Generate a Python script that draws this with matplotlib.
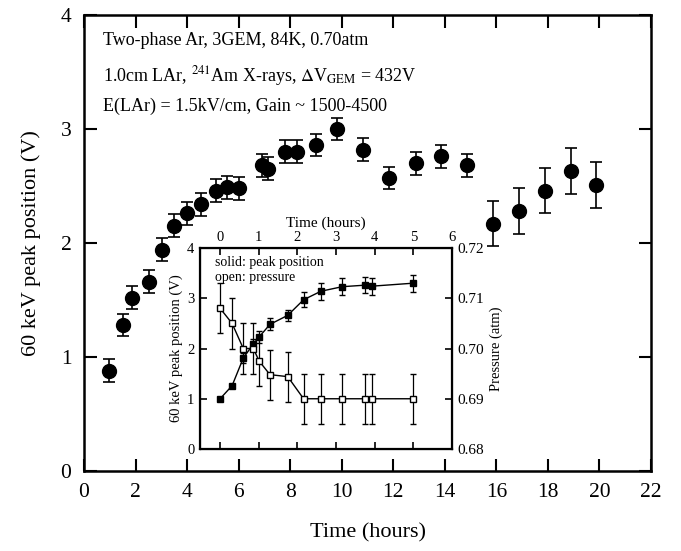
import matplotlib
matplotlib.use('Agg')
import matplotlib.pyplot as plt

plt.rcParams['font.family'] = ['Liberation Serif', 'DejaVu Serif']
plt.rcParams['mathtext.fontset'] = 'stix'

#main plot: 60 keV peak position vs time
time_h   = [0.98, 1.50, 1.86, 2.54, 3.01, 3.49, 3.98, 4.55, 5.11, 5.54, 6.03, 6.90, 7.15, 7.81,
            8.25, 9.02, 9.83, 10.84, 11.85, 12.87, 13.87, 14.86, 15.86, 16.88, 17.87, 18.91, 19.88]
peak_v   = [0.88, 1.28, 1.52, 1.66, 1.94, 2.15, 2.26, 2.34, 2.46, 2.49, 2.48, 2.68, 2.65, 2.80,
            2.80, 2.86, 3.00, 2.82, 2.57, 2.70, 2.76, 2.68, 2.17, 2.28, 2.46, 2.63, 2.51]
peak_err = [0.10]*22 + [0.20]*5

#inset: peak position and pressure during first hours
ins_t     = [0.0, 0.31, 0.60, 0.86, 1.01, 1.29, 1.75, 2.16, 2.61, 3.16, 3.74, 3.92, 5.0]
ins_peak  = [1.00, 1.26, 1.81, 2.09, 2.23, 2.48, 2.66, 2.97, 3.14, 3.23, 3.26, 3.24, 3.30]
ins_perr  = [0.0, 0.0, 0.10, 0.09, 0.12, 0.12, 0.11, 0.15, 0.17, 0.17, 0.16, 0.17, 0.17]
ins_press = [0.708, 0.705, 0.700, 0.700, 0.6975, 0.6948, 0.6944, 0.690, 0.690, 0.690, 0.690, 0.690, 0.690]
ins_prerr = [0.005]*13

fig = plt.figure(figsize=(6.81, 5.51), dpi=100)
ax = fig.add_axes([0.1233, 0.1452, 0.8327, 0.8276])

ax.errorbar(time_h, peak_v, yerr=peak_err, fmt='o', color='black', markersize=10,
            capsize=4.5, elinewidth=1.2, capthick=1.2)
ax.set_xlim(0, 22)
ax.set_ylim(0, 4)
ax.set_xticks(range(0, 23, 2))
ax.set_yticks(range(0, 5))
ax.tick_params(direction='in', length=9, width=1.5, top=True, right=True, labelsize=15.5, pad=9)
for s in ax.spines.values():
    s.set_linewidth(1.8)
ax.set_xlabel('Time (hours)', fontsize=16, labelpad=15)
ax.set_ylabel('60 keV peak position (V)', fontsize=16, labelpad=14)

ax.text(0.033, 0.943, 'Two-phase Ar, 3GEM, 84K, 0.70atm', transform=ax.transAxes, fontsize=13, va='center')
ax.text(0.033, 0.866, r'1.0cm LAr, $^{241}$Am X-rays, $\Delta$V$_{\rm GEM}$ = 432V',
        transform=ax.transAxes, fontsize=13, va='center')
ax.text(0.033, 0.800, 'E(LAr) = 1.5kV/cm, Gain ~ 1500-4500', transform=ax.transAxes, fontsize=13, va='center')

#inset
axi = fig.add_axes([0.2937, 0.1851, 0.3700, 0.3648])
axi.errorbar(ins_t, ins_peak, yerr=ins_perr, fmt='-s', color='black', markersize=4,
             capsize=2.5, linewidth=1, elinewidth=0.9)
axi.set_xlim(-0.52, 6.0)
axi.set_ylim(0, 4)
axi.set_yticks(range(0, 5))
axi.set_xticks(range(0, 7))
axi.xaxis.set_label_position('top')
axi.tick_params(axis='x', direction='in', length=5, width=1.2, top=True, bottom=True,
                labeltop=True, labelbottom=False, labelsize=10.5, pad=3)
axi.tick_params(axis='y', direction='in', length=5, width=1.2, labelsize=10.5, pad=4)
axi.set_xlabel('Time (hours)', fontsize=11, labelpad=3)
axi.set_ylabel('60 keV peak position (V)', fontsize=10.5, labelpad=3)
for s in axi.spines.values():
    s.set_linewidth(1.6)

axp = axi.twinx()
axp.errorbar(ins_t, ins_press, yerr=ins_prerr, fmt='-s', color='black', markerfacecolor='white',
             markersize=4, capsize=2.5, linewidth=1, elinewidth=0.9)
axp.set_ylim(0.68, 0.72)
axp.set_yticks([0.68, 0.69, 0.70, 0.71, 0.72])
axp.set_yticklabels(['0.68', '0.69', '0.70', '0.71', '0.72'])
axp.tick_params(axis='y', direction='in', length=5, width=1.2, labelsize=11, pad=4)
axp.set_ylabel('Pressure (atm)', fontsize=10.5, labelpad=4)

axi.text(0.06, 0.93, 'solid: peak position', transform=axi.transAxes, fontsize=10, va='center')
axi.text(0.06, 0.855, 'open: pressure', transform=axi.transAxes, fontsize=10, va='center')

plt.savefig('out.png', dpi=100)
